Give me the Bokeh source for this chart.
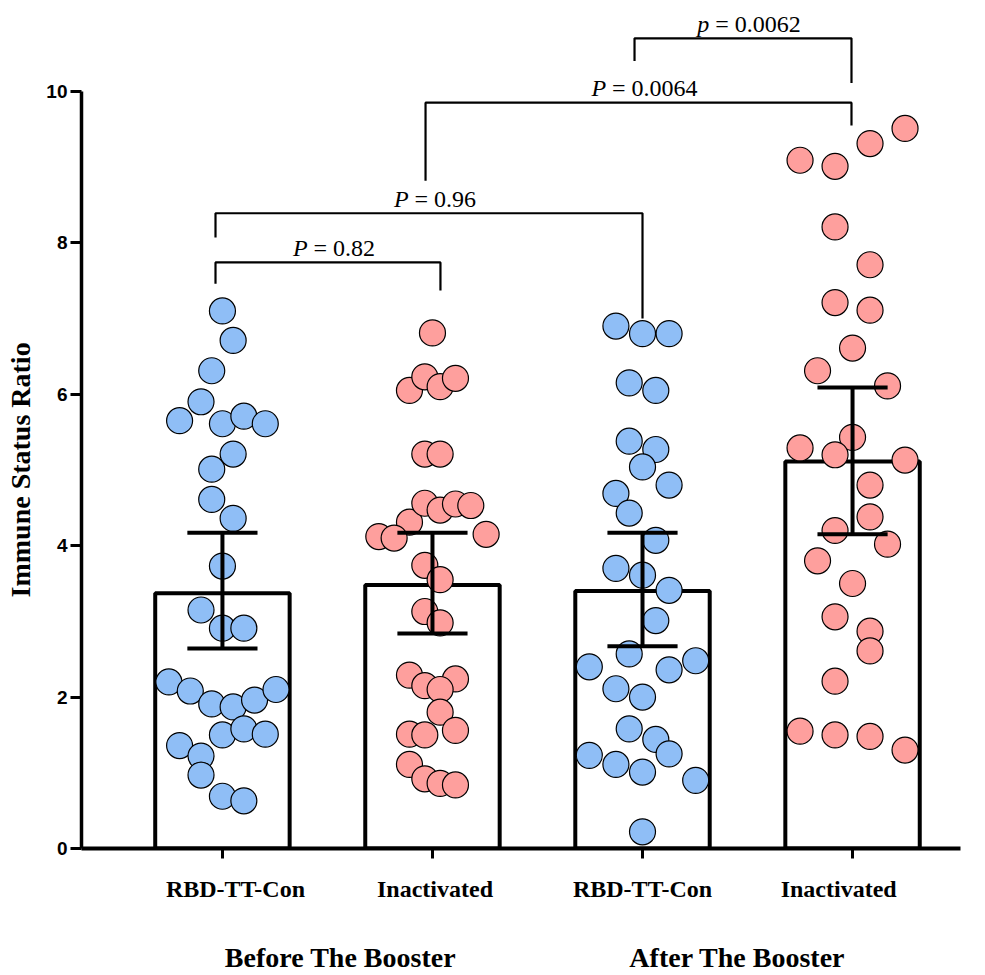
from bokeh.plotting import figure
from bokeh.models import Range1d, FixedTicker, LinearAxis
from bokeh.core.properties import value
from bokeh.embed import file_html
from bokeh.resources import INLINE

# ---------------- data ----------------
categories = ["RBD-TT-Con", "Inactivated", "RBD-TT-Con", "Inactivated"]
periods = ["Before The Booster", "After The Booster"]

bar_means = [3.37, 3.48, 3.40, 5.11]
err_low = [2.64, 2.84, 2.67, 4.15]
err_high = [4.17, 4.17, 4.17, 6.09]

g1_values = [7.10, 6.71, 6.31, 5.90, 5.65, 5.61, 5.71, 5.61, 5.21, 5.01,
             4.61, 4.36, 3.73, 3.15, 2.91, 2.91, 2.20, 2.08, 1.91, 1.87,
             1.96, 2.10, 1.50, 1.58, 1.51, 1.36, 1.22, 0.97, 0.69, 0.63]
g2_values = [6.81, 6.05, 6.23, 6.10, 6.21, 5.21, 5.21, 4.31, 4.56, 4.47,
             4.55, 4.53, 4.12, 4.10, 4.15, 3.74, 3.55, 3.13, 2.98, 2.29,
             2.15, 2.24, 2.10, 1.80, 1.51, 1.50, 1.56, 1.11, 0.92, 0.86, 0.84]
g3_values = [6.90, 6.80, 6.80, 6.15, 6.05, 5.38, 5.27, 5.04, 4.80, 4.69,
             4.43, 4.07, 3.70, 3.61, 3.41, 3.01, 2.57, 2.40, 2.36, 2.48,
             2.11, 2.00, 1.58, 1.44, 1.25, 1.23, 1.11, 1.01, 0.90, 0.22]
g4_values = [9.51, 9.31, 9.09, 9.01, 8.21, 7.71, 7.21, 7.11, 6.61, 6.31,
             6.11, 5.43, 5.29, 5.20, 5.13, 4.80, 4.38, 4.20, 4.02, 3.80,
             3.50, 3.06, 2.87, 2.61, 2.21, 1.55, 1.50, 1.48, 1.30]

# scatter spread (in lattice steps) of each point around its column
g1_steps = [0, 1, -1, -2, -4, 0, 2, 4, 1, -1, -1, 1, 0, -2, 0, 2, -5, -3, -1, 1,
            3, 5, 0, 2, 4, -4, -2, -2, 0, 2]
g2_steps = [0, -1.5, -0.5, 0.5, 1.5, -0.5, 0.5, -1.5, -0.5, 0.5, 1.5, 2.5, -3.5,
            -2.5, 3.5, -0.5, 0.5, -0.5, 0.5, -1.5, -0.5, 1.5, 0.5, 0.5, -1.5,
            -0.5, 1.5, -1.5, -0.5, 0.5, 1.5]
g3_steps = [-2, 0, 2, -1, 1, -1, 1, 0, 2, -2, -1, 1, -2, 0, 2, 1, -1, -4, 2, 4,
            -2, 0, -1, 1, 2, -4, -2, 0, 4, 0]
g4_steps = [3, 1, -3, -1, -1, 1, -1, 1, 0, -2, 2, 0, -3, -1, 3, 1, 1, -1, 2, -2,
            0, -1, 1, 1, -1, -3, -1, 1, 3]

# significance brackets
bracket_left = [0.967, 0.967, 1.967, 2.962]
bracket_right = [2.038, 3.0, 3.995, 3.995]
bracket_top = [7.74, 8.39, 9.85, 10.70]
bracket_left_end = [7.46, 8.07, 8.82, 10.40]
bracket_right_end = [7.37, 7.00, 9.55, 10.11]
p_symbol = ["P", "P", "P", "p"]
p_value_text = ["= 0.82", "= 0.96", "= 0.0064", "= 0.0062"]

# ---------------- styling ----------------
BLUE = "#8FBEF6"
PINK = "#FE9F9D"
group_colors = [BLUE, PINK, BLUE, PINK]
step_widths = [0.051, 0.073, 0.0633, 0.0833]
label_shift = [0.062, 0.012, 0.0, -0.066]
period_pos = [1.562, 3.452]
SERIF = "Liberation Serif"
SANS = "Liberation Sans"

p = figure(width=985, height=975,
           x_range=Range1d(0.329, 4.514), y_range=Range1d(0, 11.2),
           output_backend="svg", toolbar_location=None,
           x_axis_type=None, y_axis_type=None,
           min_border_left=81, min_border_right=25,
           min_border_top=0, min_border_bottom=127)
p.outline_line_color = None
p.background_fill_color = "white"
p.border_fill_color = "white"

# bars
xs = [1, 2, 3, 4]
p.vbar(x=xs, top=bar_means, bottom=0, width=0.64,
       fill_color="white", line_color="black", line_width=4)

# points
all_values = [g1_values, g2_values, g3_values, g4_values]
all_steps = [g1_steps, g2_steps, g3_steps, g4_steps]
for i, (vals, steps) in enumerate(zip(all_values, all_steps)):
    px = [xs[i] + s * step_widths[i] for s in steps]
    p.scatter(px, vals, size=26, marker="circle",
              fill_color=group_colors[i], line_color="black", line_width=1.2)

# error bars
cap = 0.167
p.segment(x0=xs, y0=err_low, x1=xs, y1=err_high, line_color="black", line_width=4)
p.segment(x0=[x - cap for x in xs], y0=err_high, x1=[x + cap for x in xs], y1=err_high,
          line_color="black", line_width=4)
p.segment(x0=[x - cap for x in xs], y0=err_low, x1=[x + cap for x in xs], y1=err_low,
          line_color="black", line_width=4)

# brackets
p.multi_line(xs=[[l, l, r, r] for l, r in zip(bracket_left, bracket_right)],
             ys=[[a, t, t, b] for a, t, b in zip(bracket_left_end, bracket_top, bracket_right_end)],
             line_color="black", line_width=2.2)

FS = 24.0
w_sym = {"P": 0.611, "p": 0.5}
w_chr = {"=": 0.564, " ": 0.25, ".": 0.25}
def width_of(s):
    return sum(w_chr.get(c, 0.5) for c in s)

centers = [(l + r) / 2 for l, r in zip(bracket_left, bracket_right)]
total_w = [(w_sym[s] + 0.25 + width_of(t)) * FS for s, t in zip(p_symbol, p_value_text)]
ty = [t + 0.02 for t in bracket_top]
p.text(x=centers, y=ty, text=p_symbol,
       x_offset=[-w / 2 + 6 for w in total_w],
       text_align="left", text_baseline="bottom",
       text_font=value(SERIF), text_font_style="italic", text_font_size="24px",
       text_color="black")
p.text(x=centers, y=ty, text=p_value_text,
       x_offset=[-w / 2 + 6 + (w_sym[s] + 0.25) * FS for w, s in zip(total_w, p_symbol)],
       text_align="left", text_baseline="bottom",
       text_font=value(SERIF), text_font_style="normal", text_font_size="24px",
       text_color="black")

# y axis
yax = LinearAxis(ticker=FixedTicker(ticks=[0, 2, 4, 6, 8, 10]), bounds=(0, 10))
yax.axis_line_width = 3.5
yax.axis_line_color = "black"
yax.major_tick_out = 11
yax.major_tick_in = 0
yax.major_tick_line_width = 3
yax.minor_tick_out = 0
yax.minor_tick_in = 0
yax.major_label_standoff = 3
yax.major_label_text_font = SANS
yax.major_label_text_font_style = "bold"
yax.major_label_text_font_size = "19px"
yax.major_label_text_color = "black"
p.add_layout(yax, "left")

ytitle = LinearAxis(ticker=FixedTicker(ticks=[5]),
                    major_label_overrides={5: "Immune Status Ratio"})
ytitle.major_label_orientation = "vertical"
ytitle.axis_line_color = None
ytitle.major_tick_line_color = None
ytitle.minor_tick_line_color = None
ytitle.major_label_standoff = 1
ytitle.major_label_text_font = SERIF
ytitle.major_label_text_font_style = "bold"
ytitle.major_label_text_font_size = "28px"
ytitle.major_label_text_color = "black"
p.add_layout(ytitle, "left")

# x axis (line + ticks)
xax = LinearAxis(ticker=FixedTicker(ticks=xs),
                 major_label_overrides={x: "" for x in xs})
xax.axis_line_width = 4
xax.axis_line_color = "black"
xax.major_tick_out = 10
xax.major_tick_in = 0
xax.major_tick_line_width = 3
xax.minor_tick_out = 0
xax.minor_tick_in = 0
xax.major_label_standoff = 0
xax.major_label_text_font_size = "0px"
xax.major_label_text_line_height = 0
p.add_layout(xax, "below")

# category labels
cat_pos = [x + s for x, s in zip(xs, label_shift)]
xlab = LinearAxis(ticker=FixedTicker(ticks=cat_pos),
                  major_label_overrides={c: n for c, n in zip(cat_pos, categories)})
xlab.axis_line_color = None
xlab.major_tick_line_color = None
xlab.minor_tick_line_color = None
xlab.major_tick_out = 0
xlab.major_tick_in = 0
xlab.major_label_standoff = 17
xlab.major_label_text_font = SERIF
xlab.major_label_text_font_style = "bold"
xlab.major_label_text_font_size = "24px"
xlab.major_label_text_line_height = 1.0
xlab.major_label_text_color = "black"
p.add_layout(xlab, "below")

# period labels
plab = LinearAxis(ticker=FixedTicker(ticks=period_pos),
                  major_label_overrides={c: n for c, n in zip(period_pos, periods)})
plab.axis_line_color = None
plab.major_tick_line_color = None
plab.minor_tick_line_color = None
plab.major_tick_out = 0
plab.major_tick_in = 0
plab.major_label_standoff = 37
plab.major_label_text_font = SERIF
plab.major_label_text_font_style = "bold"
plab.major_label_text_font_size = "28px"
plab.major_label_text_line_height = 1.0
plab.major_label_text_color = "black"
p.add_layout(plab, "below")

open("out.html", "w").write(file_html(p, INLINE))
